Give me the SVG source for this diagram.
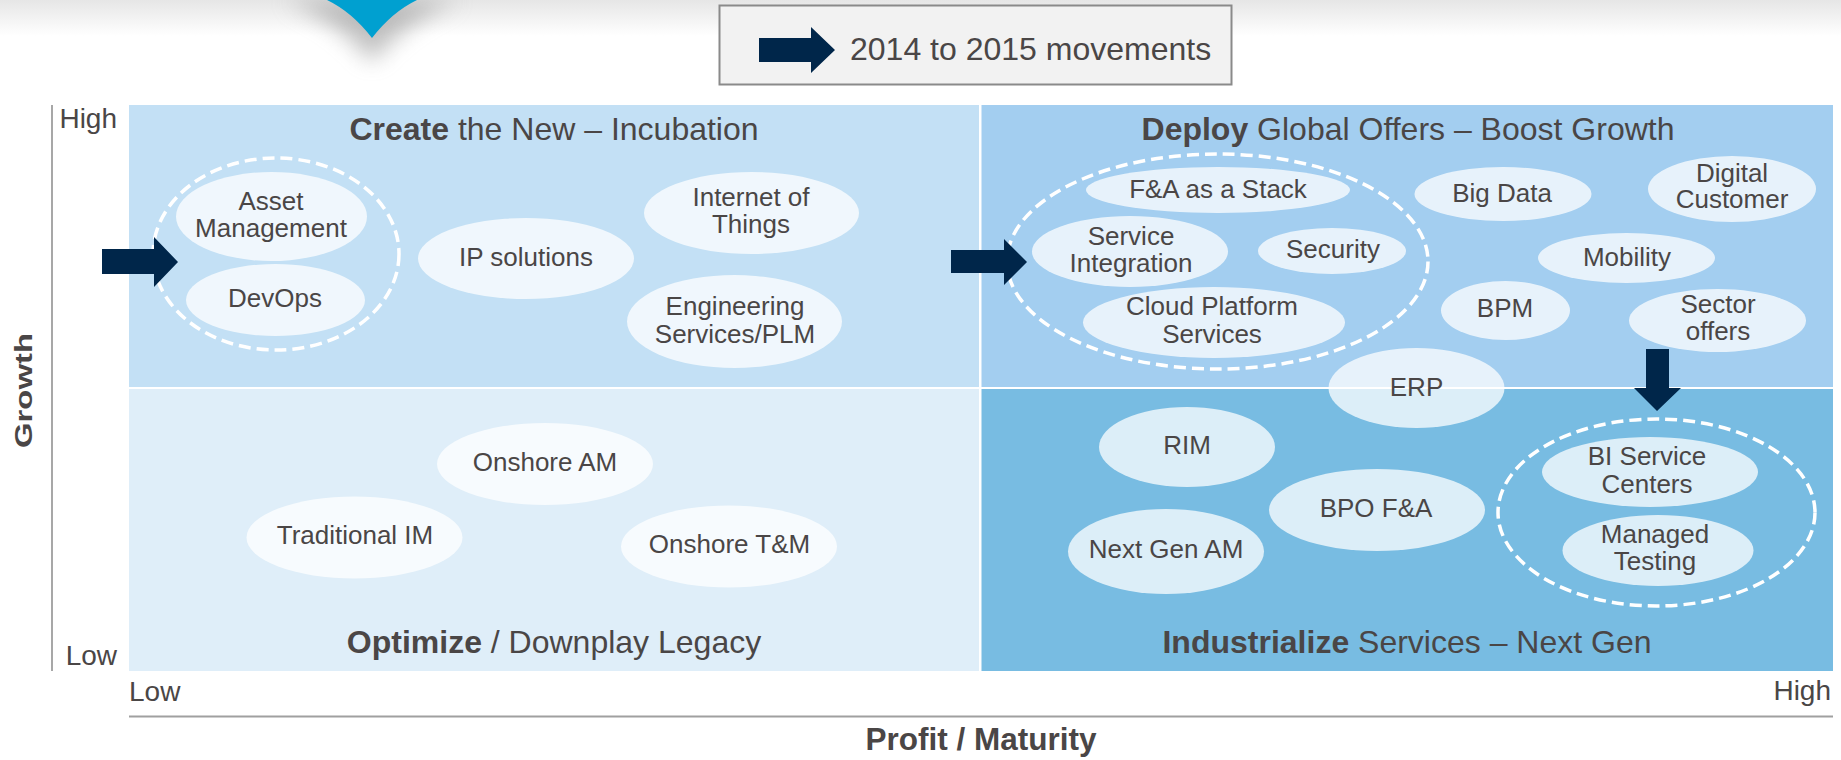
<svg xmlns="http://www.w3.org/2000/svg" width="1841" height="760" viewBox="0 0 1841 760">
<defs>
<linearGradient id="band" x1="0" y1="0" x2="0" y2="1">
<stop offset="0" stop-color="#e6e6e6"/>
<stop offset="1" stop-color="#ffffff"/>
</linearGradient>
<filter id="blur" x="-50%" y="-100%" width="200%" height="300%"><feGaussianBlur stdDeviation="11"/></filter>
<style>
text{font-family:"Liberation Sans",Arial,sans-serif;fill:#4a4646}
.lbl{font-size:26px;text-anchor:middle}
.ttl{font-size:32px;text-anchor:middle}
.ax{font-size:28px}
.b{font-weight:bold}
.bub{fill:#ffffff;fill-opacity:0.74}
.grp{fill:none;stroke:#ffffff;stroke-width:3.5;stroke-dasharray:12 6}
.arr{fill:#00264a}
</style>
</defs>
<rect width="1841" height="760" fill="#ffffff"/>
<rect x="0" y="0" width="1841" height="36" fill="url(#band)"/>
<path d="M285,0 Q340,22 372,62 Q404,22 459,0 Z" fill="#8c8c8c" opacity="0.55" filter="url(#blur)"/>
<path d="M327,0 Q352,12 372,38 Q392,12 417,0 Z" fill="#00a0d0"/>

<g id="legend">
<rect x="719.5" y="5.5" width="512" height="79" fill="#f2f2f2" stroke="#8a8a8a" stroke-width="2"/>
<path class="arr" d="M759,38 H811 V27 L835,50 L811,73 V62 H759 Z"/>
<text x="850" y="60" style="font-size:32px">2014 to 2015 movements</text>
</g>

<g id="quadrants">
<rect x="129" y="105" width="850" height="282" fill="#c3e0f5"/>
<rect x="981.5" y="105" width="851.5" height="282" fill="#a3cef0"/>
<rect x="129" y="389" width="850" height="282" fill="#dfeef9"/>
<rect x="981.5" y="389" width="851.5" height="282" fill="#78bce2"/>
<text class="ttl" x="554" y="140"><tspan class="b">Create</tspan> the New – Incubation</text>
<text class="ttl" x="1408" y="140"><tspan class="b">Deploy</tspan> Global Offers – Boost Growth</text>
<text class="ttl" x="554" y="653"><tspan class="b">Optimize</tspan> / Downplay Legacy</text>
<text class="ttl" x="1407" y="653"><tspan class="b">Industrialize</tspan> Services – Next Gen</text>
</g>

<g id="axes">
<line x1="52" y1="105" x2="52" y2="671" stroke="#8a8a8a" stroke-width="1.5"/>
<line x1="129" y1="716.5" x2="1833" y2="716.5" stroke="#a0a0a0" stroke-width="2"/>
<text class="ax" x="117" y="128" text-anchor="end">High</text>
<text class="ax" x="117" y="665" text-anchor="end">Low</text>
<text class="ax" x="129" y="701">Low</text>
<text class="ax" x="1831" y="700" text-anchor="end">High</text>
<text class="b" x="981" y="750" text-anchor="middle" style="font-size:31.5px">Profit / Maturity</text>
<text class="b" transform="translate(32,390.5) rotate(-90)" text-anchor="middle" style="font-size:23px" textLength="115" lengthAdjust="spacingAndGlyphs">Growth</text>
</g>

<g id="node-asset-management"><ellipse class="bub" cx="271.5" cy="216.5" rx="95.5" ry="44.5"/><text class="lbl" x="271" y="210">Asset</text><text class="lbl" x="271" y="237">Management</text></g>
<g id="node-devops"><ellipse class="bub" cx="275.5" cy="300" rx="89.5" ry="36"/><text class="lbl" x="275" y="307">DevOps</text></g>
<g id="group-incubation"><ellipse class="grp" cx="276" cy="254" rx="123" ry="96"/></g>
<g id="node-ip-solutions"><ellipse class="bub" cx="526" cy="258.5" rx="108" ry="40.5"/><text class="lbl" x="526" y="266">IP solutions</text></g>
<g id="node-iot"><ellipse class="bub" cx="751.5" cy="213" rx="107.5" ry="41"/><text class="lbl" x="751" y="206">Internet of</text><text class="lbl" x="751" y="233">Things</text></g>
<g id="node-engineering"><ellipse class="bub" cx="734.5" cy="321.5" rx="107.5" ry="46.5"/><text class="lbl" x="735" y="315">Engineering</text><text class="lbl" x="735" y="343">Services/PLM</text></g>

<g id="node-fa-stack"><ellipse class="bub" cx="1218" cy="190" rx="132" ry="23"/><text class="lbl" x="1218" y="198">F&amp;A as a Stack</text></g>
<g id="node-service-integration"><ellipse class="bub" cx="1130" cy="251.5" rx="98" ry="35.5"/><text class="lbl" x="1131" y="245">Service</text><text class="lbl" x="1131" y="272">Integration</text></g>
<g id="node-security"><ellipse class="bub" cx="1332" cy="251" rx="74" ry="23"/><text class="lbl" x="1333" y="258">Security</text></g>
<g id="node-cloud"><ellipse class="bub" cx="1214" cy="322.5" rx="131" ry="35.5"/><text class="lbl" x="1212" y="315">Cloud Platform</text><text class="lbl" x="1212" y="343">Services</text></g>
<g id="group-deploy"><ellipse class="grp" cx="1217.5" cy="261.5" rx="210.5" ry="107.5"/></g>
<g id="node-big-data"><ellipse class="bub" cx="1503" cy="194" rx="88.5" ry="27"/><text class="lbl" x="1502" y="202">Big Data</text></g>
<g id="node-digital-customer"><ellipse class="bub" cx="1732" cy="189" rx="84" ry="33"/><text class="lbl" x="1732" y="182">Digital</text><text class="lbl" x="1732" y="208">Customer</text></g>
<g id="node-mobility"><ellipse class="bub" cx="1626.5" cy="258" rx="88.5" ry="25"/><text class="lbl" x="1627" y="266">Mobility</text></g>
<g id="node-bpm"><ellipse class="bub" cx="1505.5" cy="310.5" rx="64.5" ry="29.5"/><text class="lbl" x="1505" y="317">BPM</text></g>
<g id="node-sector-offers"><ellipse class="bub" cx="1717.5" cy="320.5" rx="88.5" ry="31.5"/><text class="lbl" x="1718" y="313">Sector</text><text class="lbl" x="1718" y="340">offers</text></g>
<g id="node-erp"><ellipse class="bub" cx="1416.5" cy="388" rx="88" ry="40"/><text class="lbl" x="1416.5" y="396">ERP</text></g>

<g id="node-rim"><ellipse class="bub" cx="1187" cy="447" rx="88" ry="40"/><text class="lbl" x="1187" y="454">RIM</text></g>
<g id="node-bpo-fa"><ellipse class="bub" cx="1377" cy="510" rx="108" ry="41"/><text class="lbl" x="1376" y="517">BPO F&amp;A</text></g>
<g id="node-next-gen-am"><ellipse class="bub" cx="1166" cy="551.5" rx="98" ry="42.5"/><text class="lbl" x="1166" y="558">Next Gen AM</text></g>
<g id="node-bi-service-centers"><ellipse class="bub" cx="1650" cy="472" rx="108" ry="35"/><text class="lbl" x="1647" y="465">BI Service</text><text class="lbl" x="1647" y="493">Centers</text></g>
<g id="node-managed-testing"><ellipse class="bub" cx="1658" cy="550.5" rx="95.5" ry="35.5"/><text class="lbl" x="1655" y="543">Managed</text><text class="lbl" x="1655" y="570">Testing</text></g>
<g id="group-industrialize"><ellipse class="grp" cx="1656.5" cy="512.5" rx="158.5" ry="93.5"/></g>

<g id="node-onshore-am"><ellipse class="bub" cx="545" cy="464" rx="108" ry="41"/><text class="lbl" x="545" y="471">Onshore AM</text></g>
<g id="node-traditional-im"><ellipse class="bub" cx="354.5" cy="537.5" rx="108" ry="41"/><text class="lbl" x="355" y="544">Traditional IM</text></g>
<g id="node-onshore-tm"><ellipse class="bub" cx="729" cy="546.5" rx="108" ry="41"/><text class="lbl" x="729.5" y="553">Onshore T&amp;M</text></g>

<g id="connectors">
<path class="arr" d="M102,249 H154 V237 L178,262 L154,287 V274 H102 Z"/>
<path class="arr" d="M951,250 H1004 V239 L1027,262 L1004,285 V273 H951 Z"/>
<path class="arr" d="M1646,349 H1669 V388 H1681 L1657,411 L1634,388 H1646 Z"/>
</g>
</svg>
